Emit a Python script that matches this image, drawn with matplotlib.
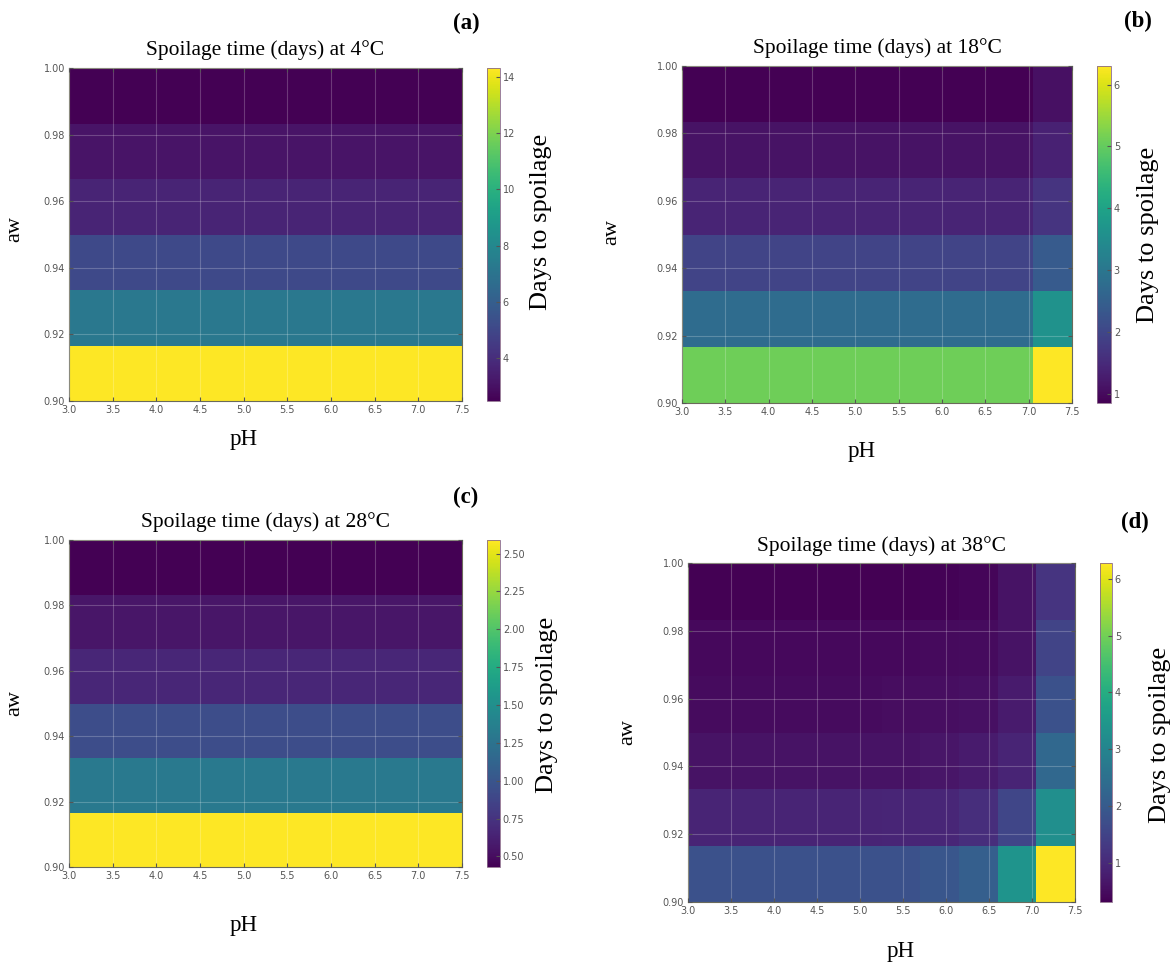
import numpy as np
import matplotlib
matplotlib.use('Agg')
import matplotlib.pyplot as plt

# grid of the model: 10 pH cells x 6 aw cells
ph_edges = np.linspace(3.0, 7.5, 11)
aw_edges = np.linspace(0.90, 1.00, 7)

temps = ['4', '18', '28', '38']
letters = ['(a)', '(b)', '(c)', '(d)']

# days to spoilage, rows from aw=0.90 (bottom) to aw=1.00 (top)
days_4 = [
    [14.32] * 10,
    [7.2] * 10,
    [5.1] * 10,
    [3.65] * 10,
    [3.1] * 10,
    [2.47] * 10,
]
days_18 = [
    [5.1] * 9 + [6.3],
    [2.76] * 9 + [3.6],
    [1.94] * 9 + [2.4],
    [1.4] * 9 + [1.67],
    [1.12] * 9 + [1.34],
    [0.85] * 9 + [1.07],
]
days_28 = [
    [2.59] * 10,
    [1.30] * 10,
    [0.93] * 10,
    [0.66] * 10,
    [0.55] * 10,
    [0.43] * 10,
]
days_38 = [
    [1.78, 1.78, 1.78, 1.78, 1.79, 1.80, 1.90, 2.10, 3.40, 6.28],
    [0.90, 0.90, 0.90, 0.90, 0.91, 0.92, 0.95, 1.08, 1.55, 3.25],
    [0.60, 0.60, 0.60, 0.60, 0.60, 0.61, 0.65, 0.73, 0.90, 2.30],
    [0.49, 0.49, 0.49, 0.49, 0.49, 0.50, 0.52, 0.56, 0.73, 1.80],
    [0.43, 0.43, 0.43, 0.43, 0.43, 0.43, 0.45, 0.48, 0.60, 1.50],
    [0.31, 0.31, 0.31, 0.31, 0.31, 0.32, 0.35, 0.40, 0.60, 1.20],
]
all_days = [days_4, days_18, days_28, days_38]

cbar_ticks = [
    [4, 6, 8, 10, 12, 14],
    [1, 2, 3, 4, 5, 6],
    [0.50, 0.75, 1.00, 1.25, 1.50, 1.75, 2.00, 2.25, 2.50],
    [1, 2, 3, 4, 5, 6],
]

serif = 'Liberation Serif'

# layout in figure pixels: axes (left, right, top, bottom), colorbar (left, right)
boxes = [
    (69, 462, 68, 401, 487, 500),
    (682, 1072, 66, 403, 1097, 1111),
    (69, 462, 540, 867, 487, 500),
    (688, 1075, 563, 902, 1100, 1112),
]
letter_xy = [(466, 23), (1138, 21), (466, 497), (1135, 522)]
ph_xy = [(244, 440), (862, 452), (244, 926), (901, 951)]
aw_xy = [(15, 229), (612, 232), (15, 703), (628, 732)]
cb_xy = [(541, 222), (1148, 235), (547, 705), (1160, 735)]

W, H = 1175, 966
fig = plt.figure(figsize=(W / 100, H / 100), dpi=100)


def put(xy, s, **kw):
    fig.text(xy[0] / W, 1 - xy[1] / H, s, family=serif, ha='center', va='center', **kw)


for i in range(4):
    l, r, t, b, cl, cr = boxes[i]
    ax = fig.add_axes([l / W, 1 - b / H, (r - l) / W, (b - t) / H])
    cax = fig.add_axes([cl / W, 1 - b / H, (cr - cl) / W, (b - t) / H])

    Z = np.array(all_days[i])
    mesh = ax.pcolormesh(ph_edges, aw_edges, Z, cmap='viridis',
                         vmin=Z.min(), vmax=Z.max())
    ax.set_xlim(3.0, 7.5)
    ax.set_ylim(0.90, 1.00)
    ax.set_xticks(np.arange(3.0, 7.51, 0.5))
    ax.set_yticks(np.arange(0.90, 1.001, 0.02))
    ax.xaxis.set_major_formatter(matplotlib.ticker.FormatStrFormatter('%.1f'))
    ax.yaxis.set_major_formatter(matplotlib.ticker.FormatStrFormatter('%.2f'))
    ax.tick_params(direction='in', labelsize=7, labelcolor='#555555',
                   color='#555555', length=3, pad=3, top=True, right=True)
    ax.grid(True, color='white', alpha=0.22, lw=0.8)
    ax.set_axisbelow(False)
    for s in ax.spines.values():
        s.set_color('#6a6a5a')
        s.set_linewidth(0.8)

    ax.set_title('Spoilage time (days) at ' + temps[i] + '°C',
                 family=serif, fontsize=15.5, pad=9)

    cb = fig.colorbar(mesh, cax=cax)
    cb.set_ticks(cbar_ticks[i])
    if i == 2:
        cb.ax.yaxis.set_major_formatter(matplotlib.ticker.FormatStrFormatter('%.2f'))
    cb.ax.tick_params(direction='in', labelsize=7, labelcolor='#555555',
                      color='#555555', length=3, pad=2)
    cb.outline.set_linewidth(0.6)
    cb.outline.set_edgecolor('#8a6a8a')

    put(ph_xy[i], 'pH', fontsize=16.5)
    put(aw_xy[i], 'aw', fontsize=16, rotation=90)
    put(cb_xy[i], 'Days to spoilage', fontsize=19, rotation=90)
    put(letter_xy[i], letters[i], fontsize=16.5, fontweight='bold')

fig.savefig('out.png', dpi=100)
